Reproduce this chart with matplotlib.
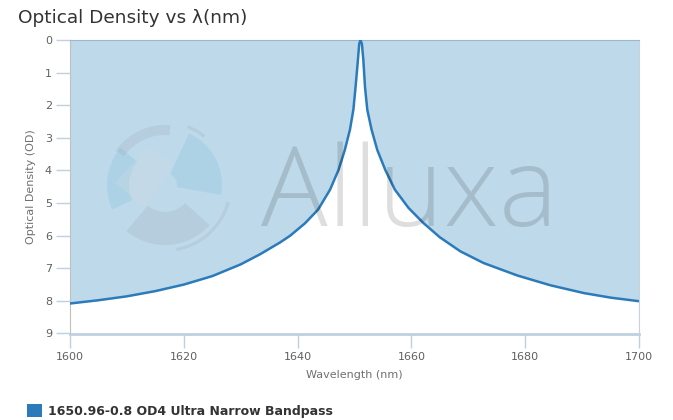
import numpy as np
import matplotlib
matplotlib.use("Agg")
import matplotlib.pyplot as plt
from matplotlib.patches import Wedge, Polygon, Rectangle

# values
wavelength = [1600, 1605, 1610, 1615, 1620, 1625, 1630, 1633.4, 1636.9,
              1638.7, 1641.3, 1643.6, 1645.7, 1647.2, 1648.3, 1649.2,
              1649.8, 1650.1, 1650.35, 1650.6, 1650.83, 1651.05, 1651.3,
              1651.55, 1651.85, 1652.25, 1653.0, 1654.0, 1655.4, 1657.1,
              1659.5, 1662.1, 1665.0, 1668.6, 1672.7, 1678.6, 1684.4,
              1690.3, 1695, 1700]
od = [8.08, 7.98, 7.86, 7.70, 7.50, 7.24, 6.88, 6.57, 6.21,
      6.00, 5.62, 5.20, 4.59, 3.98, 3.37, 2.75,
      2.14, 1.60, 1.12, 0.61, 0.12, 0.0, 0.12,
      0.60, 1.45, 2.14, 2.75, 3.37, 3.98, 4.59,
      5.15, 5.61, 6.05, 6.48, 6.84, 7.22, 7.52,
      7.76, 7.90, 8.01]

series_name = "1650.96-0.8 OD4 Ultra Narrow Bandpass"
xticks = [1600, 1620, 1640, 1660, 1680, 1700]
yticks = list(range(10))

W, H = 673, 420
line_c = "#2b7bba"
fill_c = "#bed9ea"
axis_c = "#c0d0e0"

fig = plt.figure(figsize=(W / 100, H / 100), dpi=100)
ax = fig.add_axes([70 / W, 1 - 333.5 / H, (639 - 70) / W, (333.5 - 40) / H])

ax.fill_between(wavelength, od, 0, color=fill_c, lw=0, zorder=1)
ax.plot(wavelength, od, color=line_c, lw=1.8, zorder=3,
        solid_joinstyle="round", solid_capstyle="round")

ax.set_xlim(1600, 1700)
ax.set_ylim(9, 0)
ax.set_xticks(xticks)
ax.set_yticks(yticks)
ax.tick_params(axis="both", colors=axis_c, labelcolor="#606060", labelsize=8,
               length=10, width=1)
ax.tick_params(axis="x", pad=3)
ax.tick_params(axis="y", pad=3)

ax.spines["top"].set_color("#9db6cc")
ax.spines["right"].set_color("#c8d2dc")
ax.spines["left"].set_color("#c0c0c0")
ax.spines["bottom"].set_color(axis_c)
ax.spines["bottom"].set_linewidth(2)

ax.set_xlabel("Wavelength (nm)", color="#707070", fontsize=8, labelpad=6)
ax.set_ylabel("Optical Density (OD)", color="#707070", fontsize=8, labelpad=6)

# overlay in pixel coordinates for title, watermark and legend
ov = fig.add_axes([0, 0, 1, 1], zorder=5)
ov.set_xlim(0, W)
ov.set_ylim(H, 0)
ov.axis("off")
ov.patch.set_alpha(0)

ov.text(18, 18, "Optical Density vs λ(nm)", fontsize=13.3, color="#333333",
        va="center", ha="left")

# watermark text
ov.text(261, 226, "Alluxa", fontsize=80, color="black", alpha=0.13,
        va="baseline", ha="left", family="Open Sans", fontweight="light")

# rough watermark logo
cx, cy = 165, 185
gray = dict(color="#777777", alpha=0.12, lw=0)
blue = dict(color="#4aa8d0", alpha=0.14, lw=0)
pieces = [
    Wedge((cx, cy), 60, -145, -85, width=10, **gray),
    Wedge((cx, cy), 58, -205, -140, width=22, **blue),
    Wedge((cx, cy), 57, -65, 10, width=45, **blue),
    Wedge((cx, cy), 60, 42, 130, width=33, **gray),
    Wedge((cx, cy), 67, 15, 80, width=3, **gray),
    Wedge((cx, cy), 64, -69, -51, width=3, **gray),
]
for p in pieces:
    ov.add_patch(p)
ov.add_patch(Polygon([(148, 147), (173, 163), (145, 208), (115, 183)],
                     closed=True, color="#dddddd", alpha=0.2, lw=0))

# legend
ov.add_patch(Rectangle((27, 404), 15, 13, color=line_c, lw=0))
ov.text(48, 411, series_name, fontsize=9, fontweight="bold", color="#333333",
        va="center", ha="left")

fig.savefig("out.png", dpi=100)
